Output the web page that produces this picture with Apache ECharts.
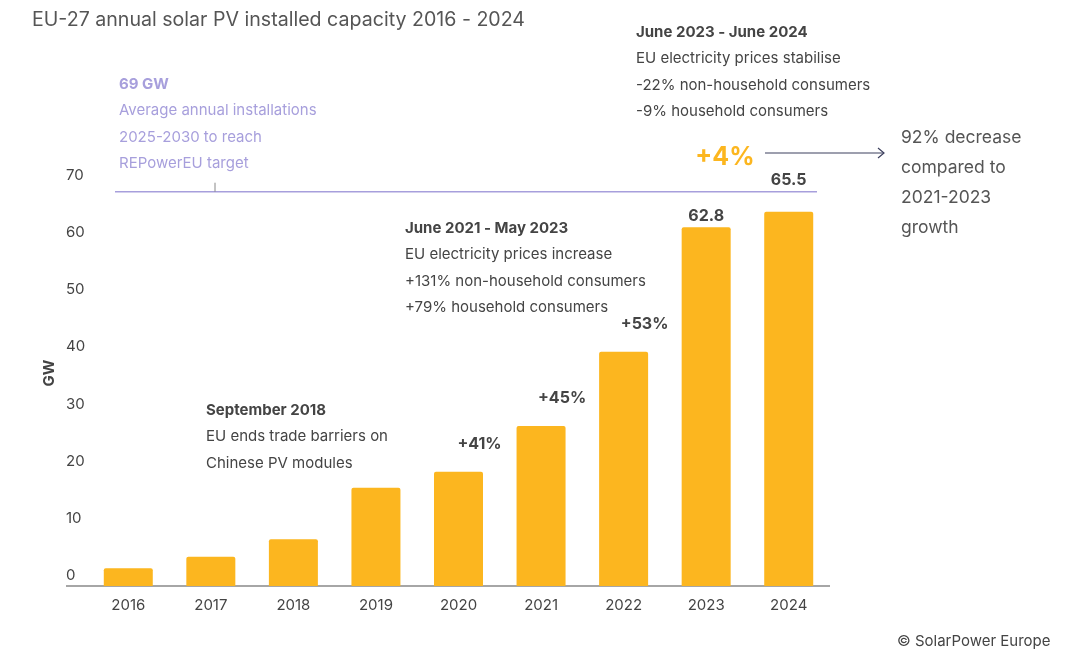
<!DOCTYPE html>
<html>
<head>
<meta charset="utf-8">
<script src="https://cdn.jsdelivr.net/npm/echarts@6/dist/echarts.min.js"></script>
<style>
  html, body { margin: 0; padding: 0; background: #fff; }
  #chart { width: 1067px; height: 671px; }
</style>
</head>
<body>
<div id="chart"></div>
<script>
var years = ['2016', '2017', '2018', '2019', '2020', '2021', '2022', '2023', '2024'];
var capacity = [3.1, 5.1, 8.2, 17.2, 20.0, 28.0, 41.0, 62.8, 65.5];
var barLabels = ['', '', '', '', '+41%', '+45%', '+53%', '62.8', '65.5'];
var targetGw = 69;
var yTicks = [0, 70, 10];

var font = 'Inter, "Noto Sans", sans-serif';
var dark = '#444444';
var purple = '#a79fdc';
var orange = '#fcb61f';

// growth labels sit right of the bar, values are centred
function labelFor(i) {
    var txt = barLabels[i];
    if (!txt) return { show: false };
    if (txt.charAt(0) === '+') {
        return { show: true, offset: [21, 0], distance: 20 };
    }
    return { show: true, distance: i === 8 ? 24 : 3 };
}

var barData = capacity.map(function (v, i) {
    return { value: v, label: labelFor(i) };
});

function block(x, y, head, rest, color) {
    var out = [{
        type: 'text', x: x, y: y,
        style: { text: head, fill: color, font: 'bold 15px ' + font, verticalAlign: 'middle' }
    }];
    rest.forEach(function (l, i) {
        out.push({
            type: 'text', x: x, y: y + (i + 1) * 26.5,
            style: { text: l, fill: color, font: '15px ' + font, verticalAlign: 'middle' }
        });
    });
    return out;
}

var chart = echarts.init(document.getElementById('chart'));

var option = {
    animation: false,
    grid: { left: 87, right: 237, top: 186, bottom: 85 },
    xAxis: {
        type: 'category',
        data: years,
        axisLine: { show: false },
        axisTick: { show: false },
        axisLabel: { color: dark, fontSize: 15, fontFamily: font, margin: 12 }
    },
    yAxis: {
        type: 'value',
        min: yTicks[0], max: yTicks[1], interval: yTicks[2],
        splitLine: { show: false },
        axisLine: { show: false },
        axisTick: { show: false },
        axisLabel: {
            color: dark, fontSize: 15, fontFamily: font,
            align: 'left', margin: 21, verticalAlign: 'bottom', padding: [0, 0, 3, 0]
        }
    },
    series: [{
        type: 'bar',
        data: barData,
        barWidth: 49,
        itemStyle: { color: orange, borderRadius: [2, 2, 0, 0] },
        label: {
            position: 'top',
            color: dark,
            fontSize: 16,
            fontWeight: 'bold',
            fontFamily: font,
            formatter: function (p) { return barLabels[p.dataIndex]; }
        }
    }]
};
chart.setOption(option);

var base = chart.convertToPixel({ yAxisIndex: 0 }, 0);
var yT = chart.convertToPixel({ yAxisIndex: 0 }, targetGw);

var graphics = [
    {
        type: 'text', left: 32, top: 10,
        style: { text: 'EU-27 annual solar PV installed capacity 2016 - 2024', fill: '#555', font: '19.6px ' + font }
    },
    {
        type: 'text', x: 49, y: 373, rotation: Math.PI / 2,
        style: { text: 'GW', fill: dark, font: 'bold 15px ' + font, align: 'center', verticalAlign: 'middle' }
    },
    {
        type: 'line', shape: { x1: 66, y1: base, x2: 830, y2: base },
        style: { stroke: '#888', lineWidth: 1.5 }
    },
    {
        type: 'line', shape: { x1: 115, y1: yT, x2: 817, y2: yT },
        style: { stroke: purple, lineWidth: 1.5 }
    },
    {
        type: 'line', shape: { x1: 215, y1: yT - 9, x2: 215, y2: yT },
        style: { stroke: '#888', lineWidth: 1 }
    },
    {
        type: 'text', x: 725, y: 157,
        style: { text: '+4%', fill: orange, font: 'bold 25px ' + font, align: 'center', verticalAlign: 'middle' }
    },
    {
        type: 'line', shape: { x1: 765, y1: 153, x2: 884, y2: 153 },
        style: { stroke: '#3d405e', lineWidth: 1.2 }
    },
    {
        type: 'polyline', shape: { points: [[878, 148], [884, 153], [878, 158]] },
        style: { stroke: '#3d405e', lineWidth: 1.2, fill: null }
    },
    {
        type: 'text', x: 897, y: 641,
        style: { text: '© SolarPower Europe', fill: dark, font: '15px ' + font, verticalAlign: 'middle' }
    }
];

['92% decrease', 'compared to', '2021-2023', 'growth'].forEach(function (l, i) {
    graphics.push({
        type: 'text', x: 901, y: 138 + i * 30,
        style: { text: l, fill: '#555', font: '17.5px ' + font, verticalAlign: 'middle' }
    });
});

graphics = graphics
    .concat(block(119, 84, '69 GW', ['Average annual installations', '2025-2030 to reach', 'REPowerEU target'], purple))
    .concat(block(636, 32, 'June 2023 - June 2024', ['EU electricity prices stabilise', '-22% non-household consumers', '-9% household consumers'], dark))
    .concat(block(405, 228, 'June 2021 - May 2023', ['EU electricity prices increase', '+131% non-household consumers', '+79% household consumers'], dark))
    .concat(block(206, 410, 'September 2018', ['EU ends trade barriers on', 'Chinese PV modules'], dark));

chart.setOption({ graphic: graphics });
</script>
</body>
</html>
